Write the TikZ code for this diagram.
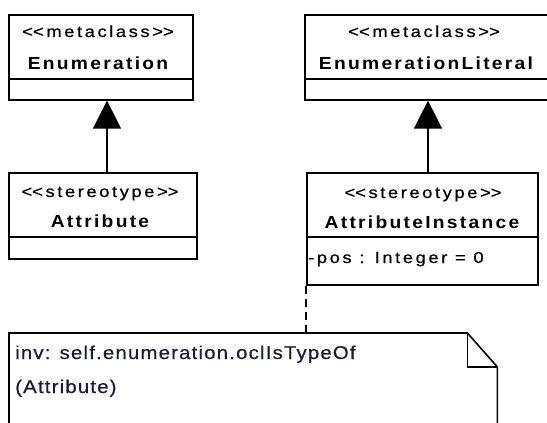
\documentclass[tikz,border=0pt]{standalone}
\usepackage{fontspec}
\setmainfont{Liberation Sans}
\newfontfamily\stfont{Liberation Sans}[LetterSpace=16,FakeStretch=1.15,FakeBold=0.5]
\newfontfamily\nmfont{Liberation Sans}[LetterSpace=13,FakeStretch=1.1]
\newfontfamily\ntfont{Liberation Sans}[LetterSpace=6.5,FakeStretch=1.1,FakeBold=0.5]
\usetikzlibrary{arrows.meta}
\newcommand\myLL{<\kern0pt<}
\newcommand\myGG{>\kern0pt>}
\definecolor{notetext}{RGB}{26,26,58}
\tikzset{
  classbox/.style={draw=black, line width=1.6pt, rectangle, inner sep=0pt, anchor=north west},
  stereo/.style={anchor=base, inner sep=0pt, font=\stfont\fontsize{16}{19}\selectfont},
  cname/.style={anchor=base, inner sep=0pt, font=\nmfont\bfseries\fontsize{17.5}{21}\selectfont},
  attrtext/.style={anchor=base west, inner sep=0pt, font=\stfont\fontsize{16}{19}\selectfont},
  notetxt/.style={anchor=base west, inner sep=0pt, text=notetext, font=\ntfont\fontsize{18.5}{22}\selectfont},
  divider/.style={line width=1.6pt},
  gen/.style={line width=1.4pt, -{Triangle[width=28pt,length=28pt]}},
  anchorline/.style={line width=1.3pt, dash pattern=on 8pt off 5pt},
  notebox/.style={rectangle, draw=none, inner sep=0pt, anchor=north west},
  noteedge/.style={line width=1.6pt, line join=miter}
}
\begin{document}
\begin{tikzpicture}[x=1pt,y=-1pt]
\useasboundingbox (0,0) rectangle (547,423);
\fill[white] (0,0) rectangle (547,423);

% Enumeration
\node[classbox, minimum width=184pt, minimum height=85pt] (enum) at (8,14) {};
\draw[divider] (enum.west |- 0,79) -- (enum.east |- 0,79);
\node[stereo] (enumS) at (98,37) {\myLL metaclass\myGG};
\node[cname] (enumN) at (98,69) {Enumeration};

% Attribute
\node[classbox, minimum width=188pt, minimum height=86pt] (attr) at (8,172) {};
\draw[divider] (attr.west |- 0,237) -- (attr.east |- 0,237);
\node[stereo] (attrS) at (100,197) {\myLL stereotype\myGG};
\node[cname] (attrN) at (100,227) {Attribute};

% EnumerationLiteral
\node[classbox, minimum width=245pt, minimum height=85pt] (elit) at (304,14) {};
\draw[divider] (elit.west |- 0,79) -- (elit.east |- 0,79);
\node[stereo] (elitS) at (424,37) {\myLL metaclass\myGG};
\node[cname] (elitN) at (426,69) {EnumerationLiteral};

% AttributeInstance
\node[classbox, minimum width=231pt, minimum height=112pt] (ainst) at (306,172) {};
\draw[divider] (ainst.west |- 0,237) -- (ainst.east |- 0,237);
\node[stereo] (ainstS) at (423,198) {\myLL stereotype\myGG};
\node[cname] (ainstN) at (422,228) {AttributeInstance};
\node[attrtext] (ainstA) at (308,263) {-pos : Integer = 0};

% Generalizations
\coordinate (aL) at (107,0);
\coordinate (aR) at (428,0);
\draw[gen] (attr.north -| aL) -- (enum.south -| aL);
\draw[gen] (ainst.north -| aR) -- (elit.south -| aR);

% Note
\node[notebox, minimum width=488pt, minimum height=110pt] (note) at (9,333) {};
\draw[noteedge] (note.south west) -- (note.north west) -- ([xshift=-30pt]note.north east)
  -- ([yshift=-34pt]note.north east) -- (note.south east);
\draw[noteedge] ([xshift=-30pt]note.north east) -- ([xshift=-30pt,yshift=-34pt]note.north east)
  -- ([yshift=-34pt]note.north east);
\node[notetxt] (noteL1) at (15,359) {inv: self.enumeration.oclIsTypeOf};
\node[notetxt] (noteL2) at (15,393) {(Attribute)};

% Anchor line
\draw[anchorline] (ainst.south west) -- (note.north -| ainst.south west);
\end{tikzpicture}
\end{document}
